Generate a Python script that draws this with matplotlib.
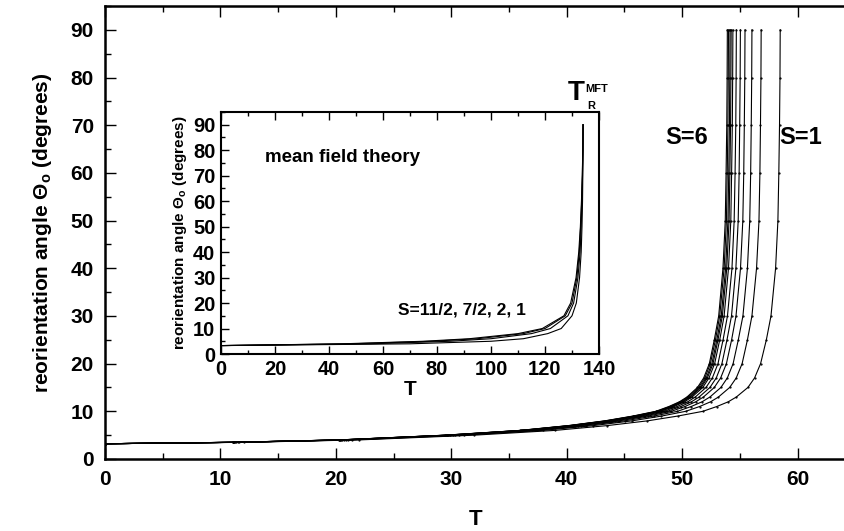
import matplotlib.pyplot as plt
from matplotlib.ticker import MultipleLocator

plt.rcParams['font.family'] = 'Liberation Sans'
plt.rcParams['font.weight'] = 'bold'
plt.rcParams['mathtext.fontset'] = 'custom'
plt.rcParams['mathtext.rm'] = 'Liberation Sans:bold'
plt.rcParams['mathtext.it'] = 'Liberation Sans:bold'
plt.rcParams['mathtext.bf'] = 'Liberation Sans:bold'

# main panel: angle grid (degrees) and the temperature at which each curve reaches it
theta_main = [3.2, 3.5, 4, 5, 6, 7, 8, 9, 10, 11, 12, 13, 15, 17, 20, 25, 30, 40, 50, 60, 70, 80, 90]
spins_main = ['1', '3/2', '2', '5/2', '3', '7/2', '4', '9/2', '5', '11/2', '6']
T_s1 = [0, 12.0, 22.0, 32.0, 39.0, 43.5, 47.0, 49.61, 51.8, 53.00, 54.0, 54.70, 55.7, 56.28, 56.8, 57.3, 57.7, 58.1, 58.3, 58.38, 58.44, 58.48, 58.5]
T_s3_2 = [0, 11.65, 21.38, 31.10, 37.92, 42.30, 45.65, 48.21, 50.31, 51.51, 52.47, 53.15, 54.12, 54.69, 55.20, 55.66, 56.05, 56.45, 56.66, 56.74, 56.79, 56.83, 56.85]
T_s2 = [0, 11.49, 21.07, 30.66, 37.39, 41.70, 45.01, 47.53, 49.60, 50.78, 51.73, 52.41, 53.36, 53.92, 54.42, 54.87, 55.27, 55.66, 55.86, 55.94, 55.99, 56.03, 56.05]
T_s5_2 = [0, 11.37, 20.85, 30.33, 36.99, 41.25, 44.53, 47.02, 49.07, 50.24, 51.18, 51.85, 52.79, 53.34, 53.84, 54.29, 54.67, 55.06, 55.26, 55.34, 55.39, 55.43, 55.45]
T_s3 = [0, 11.29, 20.70, 30.11, 36.72, 40.96, 44.21, 46.68, 48.72, 49.88, 50.81, 51.47, 52.41, 52.96, 53.45, 53.89, 54.28, 54.66, 54.86, 54.94, 54.99, 55.03, 55.05]
T_s7_2 = [0, 11.21, 20.57, 29.92, 36.48, 40.70, 43.92, 46.39, 48.41, 49.56, 50.49, 51.14, 52.07, 52.62, 53.11, 53.55, 53.93, 54.32, 54.51, 54.59, 54.65, 54.68, 54.70]
T_s4 = [0, 11.15, 20.45, 29.76, 36.28, 40.47, 43.68, 46.13, 48.14, 49.29, 50.21, 50.86, 51.79, 52.33, 52.82, 53.26, 53.64, 54.02, 54.22, 54.29, 54.35, 54.38, 54.40]
T_s9_2 = [0, 11.12, 20.40, 29.67, 36.18, 40.36, 43.56, 46.00, 48.01, 49.15, 50.07, 50.72, 51.65, 52.19, 52.68, 53.11, 53.49, 53.87, 54.07, 54.14, 54.20, 54.23, 54.25]
T_s5 = [0, 11.10, 20.36, 29.62, 36.12, 40.29, 43.48, 45.92, 47.92, 49.06, 49.98, 50.63, 51.55, 52.09, 52.58, 53.01, 53.39, 53.77, 53.97, 54.04, 54.10, 54.13, 54.15]
T_s11_2 = [0, 11.07, 20.31, 29.55, 36.03, 40.19, 43.38, 45.81, 47.81, 48.94, 49.86, 50.51, 51.43, 51.97, 52.45, 52.89, 53.26, 53.64, 53.84, 53.91, 53.97, 54.00, 54.02]
T_s6 = [0, 11.05, 20.27, 29.49, 35.97, 40.12, 43.30, 45.72, 47.72, 48.85, 49.77, 50.42, 51.33, 51.87, 52.36, 52.79, 53.17, 53.54, 53.74, 53.81, 53.87, 53.90, 53.92]
T_main = [T_s1, T_s3_2, T_s2, T_s5_2, T_s3, T_s7_2, T_s4, T_s9_2, T_s5, T_s11_2, T_s6]

# inset: mean field theory curves
theta_mft = [3.3, 4, 5, 6, 8, 10, 15, 20, 30, 40, 50, 60, 70, 80, 90]
spins_mft = ['11/2', '7/2', '2', '1']
Tm_s11_2 = [0, 45, 75, 92, 110, 119, 127, 129.5, 131.5, 132.5, 133.1, 133.5, 133.8, 134.0, 134.1]
Tm_s7_2 = [0, 48, 78, 95, 112, 120, 127.5, 130, 131.8, 132.7, 133.2, 133.6, 133.85, 134.0, 134.1]
Tm_s2 = [0, 55, 85, 100, 115, 122, 128.5, 130.6, 132.2, 133.0, 133.4, 133.7, 133.9, 134.05, 134.1]
Tm_s1 = [0, 70, 100, 112, 121, 126, 130, 131.6, 132.8, 133.4, 133.7, 133.9, 134.0, 134.1, 134.1]
T_mft = [Tm_s11_2, Tm_s7_2, Tm_s2, Tm_s1]

W, H = 845, 531
fig = plt.figure(figsize=(W / 100, H / 100), dpi=100)

def px_box(x0, y0, x1, y1):
    return [x0 / W, 1 - y1 / H, (x1 - x0) / W, (y1 - y0) / H]

ax = fig.add_axes(px_box(105, 6, 846, 459))
for T in T_main:
    ax.plot(T, theta_main, color='black', lw=0.8, marker='.', markersize=1.2)
ax.set_xlim(0, 64.2)
ax.set_ylim(0, 95)
ax.xaxis.set_major_locator(MultipleLocator(10))
ax.xaxis.set_minor_locator(MultipleLocator(5))
ax.yaxis.set_major_locator(MultipleLocator(10))
ax.yaxis.set_minor_locator(MultipleLocator(5))
ax.tick_params(which='both', direction='in', top=True, right=False, width=1, labelsize=15, pad=8)
ax.tick_params(which='major', length=8)
ax.tick_params(which='minor', length=4)
for s in ['left', 'bottom', 'top']:
    ax.spines[s].set_linewidth(1.8)
ax.spines['right'].set_visible(False)
ax.set_xlabel('T', fontsize=16, fontweight='bold', labelpad=14)
ax.set_ylabel(r'reorientation angle $\Theta_o$ (degrees)', fontsize=15, fontweight='bold', labelpad=12)
ax.text(50.4, 67.5, 'S=6', fontsize=17, fontweight='bold', ha='center', va='center')
ax.text(60.3, 67.5, 'S=1', fontsize=17, fontweight='bold', ha='center', va='center')

ins = fig.add_axes(px_box(221, 112, 599, 354))
for T in T_mft:
    ins.plot(T, theta_mft, color='black', lw=0.8)
ins.set_xlim(0, 140)
ins.set_ylim(0, 95)
ins.xaxis.set_major_locator(MultipleLocator(20))
ins.xaxis.set_minor_locator(MultipleLocator(10))
ins.yaxis.set_major_locator(MultipleLocator(10))
ins.yaxis.set_minor_locator(MultipleLocator(5))
ins.tick_params(which='both', direction='in', top=True, right=False, width=1, labelsize=14.5, pad=4)
ins.tick_params(which='major', length=6)
ins.tick_params(which='minor', length=3)
for s in ins.spines.values():
    s.set_linewidth(1.5)
ins.set_xlabel('T', fontsize=15, fontweight='bold', labelpad=1)
ins.set_ylabel(r'reorientation angle $\Theta_o$ (degrees)', fontsize=11, fontweight='bold', labelpad=3)
ins.text(16.3, 77, 'mean field theory', fontsize=13.5, fontweight='bold', va='center')
ins.text(65.6, 17.3, 'S=11/2, 7/2, 2, 1', fontsize=12.5, fontweight='bold', va='center')

fig.text(576.5 / W, 1 - 93.5 / H, 'T', fontsize=20, fontweight='bold', ha='center', va='center')
fig.text(597 / W, 1 - 89 / H, 'MFT', fontsize=8, fontweight='bold', ha='center', va='center')
fig.text(591 / W, 1 - 106 / H, 'R', fontsize=8, fontweight='bold', ha='center', va='center')

fig.savefig('out.png', dpi=100)
